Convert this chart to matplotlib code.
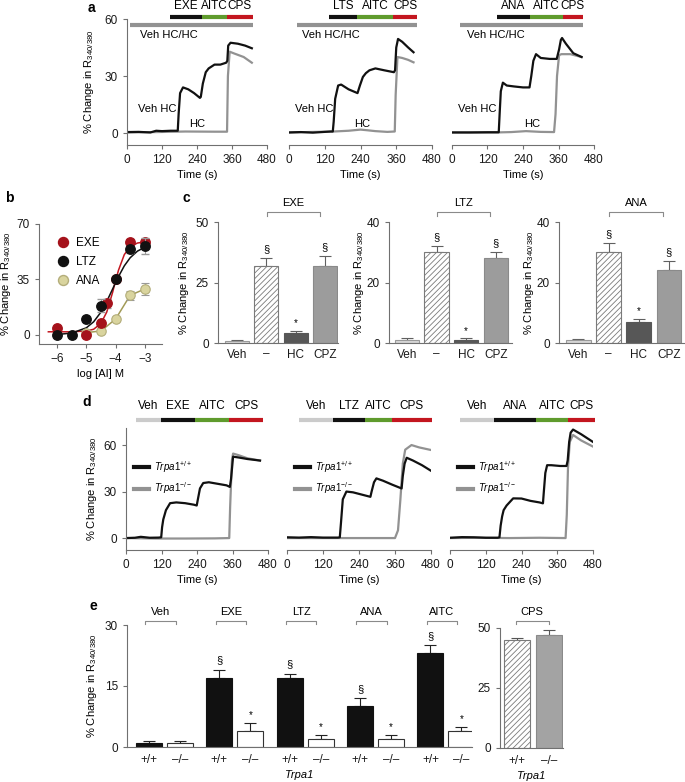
import matplotlib
matplotlib.use('Agg')
import matplotlib.pyplot as plt
from matplotlib.lines import Line2D
import numpy as np

plt.rcParams['font.family'] = ['Liberation Sans', 'DejaVu Sans']
plt.rcParams['mathtext.fontset'] = 'custom'
plt.rcParams['mathtext.rm'] = 'Liberation Sans'
plt.rcParams['mathtext.it'] = 'Liberation Sans:italic'
plt.rcParams['font.size'] = 8
plt.rcParams['xtick.labelsize'] = 8.5
plt.rcParams['ytick.labelsize'] = 8.5
plt.rcParams['hatch.linewidth'] = 0.6
plt.rcParams['axes.linewidth'] = 0.8
plt.rcParams['axes.edgecolor'] = '#707070'
plt.rcParams['xtick.color'] = '#707070'
plt.rcParams['ytick.color'] = '#707070'
plt.rcParams['xtick.labelcolor'] = '#1a1a1a'
plt.rcParams['ytick.labelcolor'] = '#1a1a1a'
plt.rcParams['xtick.major.size'] = 3
plt.rcParams['ytick.major.size'] = 3

BLACK = '#111111'
GRAY = '#929292'
LGRAY = '#cbcbcb'
GREEN = '#5f9b2d'
RED = '#c3161f'
YLABEL = '% Change in R$_{340/380}$'

# ---------------- panel a : calcium traces ----------------
a_drugs = [['EXE', 'AITC', 'CPS'], ['LTS', 'AITC', 'CPS'], ['ANA', 'AITC', 'CPS']]
# gray bar start, drug start, AITC start, CPS start, end (s)
a_bar_edges = [[10, 147, 257, 342, 432], [27, 135, 228, 349, 430], [28, 152, 264, 374, 443]]

a1_t_veh = [0, 40, 80, 100, 120, 150, 174, 177, 182, 192, 210, 230, 250, 253, 260, 270, 280, 300, 320, 340, 344, 347, 355, 380, 405, 428]
a1_veh = [0.5, 0.6, 0.3, 1.2, 1.0, 1.2, 1.2, 10, 21, 24, 23, 21, 18.5, 19, 26, 32, 34, 36, 36, 37, 38, 46, 47.5, 47, 46, 44.6]
a1_t_hc = [0, 100, 200, 300, 343, 346, 352, 365, 400, 428]
a1_hc = [0.3, 0.5, 0.8, 0.7, 0.7, 30, 42.8, 42, 40, 37]

a2_t_veh = [0, 40, 80, 120, 140, 147, 150, 155, 165, 175, 200, 230, 238, 248, 258, 270, 290, 320, 352, 356, 360, 366, 380, 400, 418]
a2_veh = [0.3, 0.5, 0.2, 0.6, 0.8, 0.8, 6, 18, 25, 25.5, 23, 21, 25, 29.5, 31.5, 33, 34, 33, 32, 33, 45, 49.5, 48, 45, 42.5]
a2_t_hc = [0, 150, 200, 240, 260, 290, 330, 355, 358, 364, 380, 400, 418]
a2_hc = [0.3, 0.8, 1.2, 1.8, 1.5, 1.0, 0.6, 0.8, 20, 40, 39.5, 38.5, 37.2]

a3_t_veh = [0, 60, 120, 158, 161, 165, 172, 185, 210, 240, 262, 268, 275, 284, 300, 330, 354, 362, 368, 372, 385, 410, 438]
a3_veh = [0.3, 0.3, 0.4, 0.4, 10, 22, 26.5, 25, 24.5, 24, 24, 30, 38, 41.5, 39.5, 39, 39, 44, 49, 50, 47, 42, 40]
a3_t_hc = [0, 150, 200, 250, 300, 345, 350, 355, 362, 370, 400, 438]
a3_hc = [0.3, 0.3, 0.5, 1.0, 0.6, 0.5, 10, 30, 41, 41.5, 41.5, 40]

a_traces = [(a1_t_veh, a1_veh, a1_t_hc, a1_hc), (a2_t_veh, a2_veh, a2_t_hc, a2_hc),
            (a3_t_veh, a3_veh, a3_t_hc, a3_hc)]
a_label_pos = [(44, 38, 240), (43, 20, 245), (50, 21, 270)]  # Veh HC/HC x, Veh HC x, HC x

# ---------------- panel b : concentration response ----------------
b_x = [-6, -5, -4.5, -4.3, -4, -3.5, -3]
b_exe = [4.2, 0, 7.5, 20, 35, 58.5, 58.5]
b_exe_err = [1, 0.5, 1, 3, 1, 2, 2]
b_x_ltz = [-6, -5.5, -5, -4.5, -4, -3.5, -3]
b_ltz = [0, 0, 10, 18.5, 35, 54, 56]
b_ltz_err = [0.5, 0.5, 1, 4, 1, 2, 5]
b_x_ana = [-5, -4.5, -4, -3.5, -3]
b_ana = [1.5, 2.5, 10, 25, 29]
b_ana_err = [1, 0.5, 1, 3, 3.5]
b_fit_x_exe = [-6.3, -6, -5.5, -5, -4.75, -4.5, -4.3, -4.1, -4, -3.9, -3.7, -3.5, -3.25, -3]
b_fit_exe = [2.0, 2.0, 2.0, 2.5, 3.6, 7.3, 14.5, 26.9, 34.1, 40.8, 50.7, 55.7, 58.0, 58.7]
b_fit_x_ltz = [-6.1, -6, -5.5, -5, -4.75, -4.5, -4.3, -4.1, -4, -3.9, -3.7, -3.5, -3.25, -3]
b_fit_ltz = [0.2, 0.3, 1.2, 4.5, 8.3, 14.4, 21.2, 29, 33, 36.8, 43.6, 48.7, 52.9, 55.3]

# ---------------- panel c : antagonists ----------------
c_labels = ['Veh', '\u2013', 'HC', 'CPZ']
c_titles = ['EXE', 'LTZ', 'ANA']
c_vals = [[1, 32, 4, 32], [1, 30, 1, 28], [1, 30, 7, 24]]
c_errs = [[0.3, 3, 1, 4], [0.5, 2, 0.5, 2], [0.3, 3, 1, 3]]
c_sig = ['', '\u00a7', '*', '\u00a7']
c_ymax = [50, 40, 40]
c_yticks = [[0, 25, 50], [0, 20, 40], [0, 20, 40]]

# ---------------- panel d : Trpa1 traces ----------------
d_drugs = [['Veh', 'EXE', 'AITC', 'CPS'], ['Veh', 'LTZ', 'AITC', 'CPS'], ['Veh', 'ANA', 'AITC', 'CPS']]
d_bar_edges = [[34, 117, 233, 349, 463], [39, 153, 260, 350, 482], [33, 148, 287, 397, 486]]

d1_t_wt = [0, 30, 50, 80, 110, 119, 122, 126, 135, 149, 170, 200, 230, 239, 244, 250, 261, 280, 310, 340, 351, 355, 362, 380, 410, 453]
d1_wt = [0, 0.2, 0.8, 0.2, 0.3, 0.5, 7, 12, 18, 22.5, 23, 22.5, 21.5, 21, 26, 32, 35.5, 36, 35, 34, 33, 38, 52.5, 52, 51, 50]
d1_t_ko = [0, 100, 200, 300, 349, 352, 358, 362, 380, 410, 453]
d1_ko = [0, -0.3, -0.3, -0.2, 0, 20, 50, 54.5, 53.5, 51.5, 50]

d2_t_wt = [0, 40, 80, 120, 170, 176, 180, 186, 198, 220, 250, 278, 282, 290, 298, 320, 350, 382, 386, 392, 399, 420, 450, 480]
d2_wt = [0.5, 0.3, 0.6, 0.3, 0.3, 0.5, 10, 25, 30, 29.5, 28, 26.6, 30, 36, 38.5, 37, 34.5, 32, 40, 48, 51.8, 50, 47, 43.4]
d2_t_ko = [0, 100, 200, 300, 360, 370, 378, 386, 394, 415, 440, 480]
d2_ko = [0, 0, 0, 0, 0, 5, 25, 48, 57, 60, 58.5, 56.8]

d3_t_wt = [0, 40, 80, 120, 160, 166, 170, 175, 180, 190, 212, 240, 270, 300, 312, 315, 320, 326, 340, 370, 391, 395, 400, 405, 413, 440, 480]
d3_wt = [0.2, 0.6, 0.5, 0.2, 0.2, 0.5, 8, 14, 18, 21, 25.6, 25.5, 24, 23, 22.4, 30, 42, 47, 47, 46.5, 46.5, 50, 62, 68, 70, 67, 62]
d3_t_ko = [0, 100, 200, 300, 388, 392, 396, 402, 413, 440, 480]
d3_ko = [0, 0.2, 0, 0.2, 0, 15, 45, 62, 66.5, 63, 59]

d_traces = [(d1_t_wt, d1_wt, d1_t_ko, d1_ko), (d2_t_wt, d2_wt, d2_t_ko, d2_ko),
            (d3_t_wt, d3_wt, d3_t_ko, d3_ko)]

# ---------------- panel e : Trpa1 summary ----------------
e_groups = ['Veh', 'EXE', 'LTZ', 'ANA', 'AITC']
e_wt = [1, 17, 17, 10, 23]
e_wt_err = [0.5, 2, 1, 2, 2]
e_ko = [1, 4, 2, 2, 4]
e_ko_err = [0.5, 2, 1, 1, 1]
e_wt_sig = ['', '\u00a7', '\u00a7', '\u00a7', '\u00a7']
e_ko_sig = ['', '*', '*', '*', '*']
e_cps = [45, 47]
e_cps_err = [1, 2]
geno = ['+/+', '\u2013/\u2013']

W, H = 685, 782
fig = plt.figure(figsize=(W / 100, H / 100), dpi=100)


def pax(l, t, r, b):
    return fig.add_axes([l / W, 1 - b / H, (r - l) / W, (b - t) / H])


def clean(ax, left=True):
    ax.spines['top'].set_visible(False)
    ax.spines['right'].set_visible(False)
    if not left:
        ax.spines['left'].set_visible(False)
        ax.set_yticks([])


def ylab(ax, x_px, l, r):
    ax.set_ylabel(YLABEL)
    ax.yaxis.set_label_coords((x_px - l) / (r - l), 0.5)


def bracket(ax, x0, x1, y, drop, label, color='#8a8a8a'):
    ax.plot([x0, x0, x1, x1], [y - drop, y, y, y - drop], color=color, lw=0.8, clip_on=False)
    ax.annotate(label, ((x0 + x1) / 2, y), xytext=(0, 2.5), textcoords='offset points',
                ha='center', va='bottom', fontsize=8, annotation_clip=False)


def sig(ax, x, top, s):
    if s:
        ax.annotate(s, (x, top), xytext=(0, 2 if s == '*' else 3), textcoords='offset points',
                    ha='center', va='bottom', fontsize=8 if s != '*' else 7)


# ---- panel a
a_boxes = [(127, 267), (289, 432), (452, 594)]
for i, (l, r) in enumerate(a_boxes):
    ax = pax(l, 19, r, 145)
    tv, vv, th, vh = a_traces[i]
    ax.plot(th, vh, color=GRAY, lw=1.6)
    ax.plot(tv, vv, color=BLACK, lw=1.6)
    ax.set_xlim(0, 480)
    ax.set_ylim(-6.3, 60)
    ax.set_xticks([0, 120, 240, 360, 480])
    ax.set_xlabel('Time (s)', labelpad=3)
    clean(ax, left=(i == 0))
    if i == 0:
        ax.set_yticks([0, 30, 60])
        ylab(ax, 96, l, r)
    e = a_bar_edges[i]
    ax.plot([e[0], e[4]], [57, 57], color=GRAY, lw=3, solid_capstyle='butt', clip_on=False)
    for k, c in enumerate([BLACK, GREEN, RED]):
        ax.plot([e[k + 1], e[k + 2]], [61, 61], color=c, lw=3, solid_capstyle='butt', clip_on=False)
        ax.text((e[k + 1] + e[k + 2]) / 2, 63.5, a_drugs[i][k], ha='center', va='bottom', fontsize=8.5)
    p = a_label_pos[i]
    ax.text(p[0], 51.5, 'Veh HC/HC', ha='left', va='center', fontsize=8)
    ax.text(p[1], 12.5, 'Veh HC', ha='left', va='center', fontsize=8)
    ax.text(p[2], 5, 'HC', ha='center', va='center', fontsize=8)

# ---- panel b
ax = pax(39, 224, 162, 344)
ax.plot(b_fit_x_exe, b_fit_exe, color=RED, lw=1.1, zorder=2)
ax.plot(b_fit_x_ltz, b_fit_ltz, color=BLACK, lw=1.1, zorder=2)
ax.plot(b_x_ana, b_ana, color='#a29b57', lw=1.1, zorder=2)
ax.errorbar(b_x_ana, b_ana, yerr=b_ana_err, fmt='o', ms=6.8, mfc='#d9d49e', mec='#b3ad7a', mew=0.8,
            ecolor='#999999', elinewidth=0.8, capsize=3, zorder=3)
ax.errorbar(b_x, b_exe, yerr=b_exe_err, fmt='o', ms=6.8, mfc='#a5121b', mec='#a5121b',
            ecolor='#999999', elinewidth=0.8, capsize=3, zorder=3)
ax.errorbar(b_x_ltz, b_ltz, yerr=b_ltz_err, fmt='o', ms=6.8, mfc=BLACK, mec=BLACK,
            ecolor='#999999', elinewidth=0.8, capsize=3, zorder=4)
ax.set_xlim(-6.62, -2.41)
ax.set_ylim(-5.7, 70)
ax.set_xticks([-6, -5, -4, -3])
ax.set_yticks([0, 35, 70])
ax.set_xlabel('log [AI] M', labelpad=3)
clean(ax)
ylab(ax, 13, 39, 162)
handles = [Line2D([], [], marker='o', ls='none', ms=7.2, mfc='#a5121b', mec='#a5121b'),
           Line2D([], [], marker='o', ls='none', ms=7.2, mfc=BLACK, mec=BLACK),
           Line2D([], [], marker='o', ls='none', ms=7.2, mfc='#d9d49e', mec='#b3ad7a')]
ax.legend(handles, ['EXE', 'LTZ', 'ANA'], loc='upper left', bbox_to_anchor=(0.06, 0.93),
          frameon=False, handletextpad=0.1, labelspacing=0.6, fontsize=8.5, borderaxespad=0)

# ---- panel c
c_boxes = [(218, 338, -0.65, 3.45, 191), (389, 512, -0.61, 3.55, 366), (559, 684, -0.64, 3.5, 536)]
c_face = ['#d8d8d8', 'white', '#575757', '#9c9c9c']
c_edge = ['#9a9a9a', '#7a7a7a', '#575757', '#8a8a8a']
c_hatch = [None, '//////', None, None]
for i, (l, r, x0, x1, yl) in enumerate(c_boxes):
    ax = pax(l, 222, r, 343)
    xs = np.arange(4)
    for k in range(4):
        ax.bar(xs[k], c_vals[i][k], width=0.82, color=c_face[k], edgecolor=c_edge[k],
               hatch=c_hatch[k], linewidth=0.8, zorder=2)
    ax.errorbar(xs, c_vals[i], yerr=[np.zeros(4), c_errs[i]], fmt='none', ecolor='#606060',
                elinewidth=0.8, capsize=4, capthick=0.8, zorder=1)
    for k in range(4):
        sig(ax, xs[k], c_vals[i][k] + c_errs[i][k], c_sig[k])
    ax.set_xlim(x0, x1)
    ax.set_ylim(0, c_ymax[i])
    ax.set_yticks(c_yticks[i])
    ax.set_xticks(xs)
    ax.set_xticklabels(c_labels)
    ax.tick_params(axis='x', length=0, pad=4)
    clean(ax)
    ylab(ax, yl, l, r)
    bracket(ax, 1.02, 2.82, c_ymax[i] * 1.085, c_ymax[i] * 0.034, c_titles[i])

# ---- panel d
d_boxes = [(126, 268), (287, 431), (450, 593)]
for i, (l, r) in enumerate(d_boxes):
    ax = pax(l, 428, r, 550)
    tw, vw, tk, vk = d_traces[i]
    ax.plot(tk, vk, color=GRAY, lw=1.6)
    ax.plot(tw, vw, color=BLACK, lw=1.6)
    ax.set_xlim(0, 480)
    ax.set_ylim(-7.7, 71)
    ax.set_xticks([0, 120, 240, 360, 480])
    ax.set_xlabel('Time (s)', labelpad=3)
    clean(ax, left=(i == 0))
    if i == 0:
        ax.set_yticks([0, 30, 60])
        ylab(ax, 99, l, r)
    e = d_bar_edges[i]
    for k, c in enumerate([LGRAY, BLACK, GREEN, RED]):
        ax.plot([e[k], e[k + 1]], [76, 76], color=c, lw=3, solid_capstyle='butt', clip_on=False)
        ax.text((e[k] + e[k + 1]) / 2, 81, d_drugs[i][k], ha='center', va='bottom', fontsize=8.5)
    hl = [Line2D([], [], color=BLACK, lw=3), Line2D([], [], color=GRAY, lw=3)]
    ax.legend(hl, [r'$\it{Trpa1}^{+/+}$', r'$\it{Trpa1}^{-/-}$'], loc='upper left',
              bbox_to_anchor=(0.03, 0.78), frameon=False, fontsize=7, handlelength=1.5,
              handletextpad=0.5, labelspacing=0.6, borderaxespad=0)

# ---- panel e
ax = pax(127, 625, 472, 747)
gpos = np.arange(5) * 2.27
for k in range(5):
    ax.bar(gpos[k], e_wt[k], width=0.84, color=BLACK, edgecolor=BLACK, linewidth=0.8, zorder=2)
    ax.bar(gpos[k] + 1, e_ko[k], width=0.84, color='white', edgecolor='#333333', linewidth=0.8, zorder=2)
    sig(ax, gpos[k], e_wt[k] + e_wt_err[k], e_wt_sig[k])
    sig(ax, gpos[k] + 1, e_ko[k] + e_ko_err[k], e_ko_sig[k])
    bracket(ax, gpos[k] - 0.12, gpos[k] + 0.86, 31, 0.7, e_groups[k])
ax.errorbar(gpos, e_wt, yerr=[np.zeros(5), e_wt_err], fmt='none', ecolor='#222222',
            elinewidth=0.8, capsize=4, capthick=0.8, zorder=1)
ax.errorbar(gpos + 1, e_ko, yerr=[np.zeros(5), e_ko_err], fmt='none', ecolor='#222222',
            elinewidth=0.8, capsize=4, capthick=0.8, zorder=1)
ax.set_xlim(-0.71, 10.42)
ax.set_ylim(0, 30)
ax.set_yticks([0, 15, 30])
ax.set_xticks(np.sort(np.concatenate([gpos, gpos + 1])))
ax.set_xticklabels(geno * 5)
ax.tick_params(axis='x', length=0, pad=5)
ax.set_xlabel('Trpa1', fontstyle='italic', labelpad=3)
clean(ax)
ylab(ax, 99, 127, 472)

ax = pax(500, 628, 563, 748)
ax.bar(0, e_cps[0], width=0.83, color='white', edgecolor='#7a7a7a', hatch='//////', linewidth=0.8, zorder=2)
ax.bar(1, e_cps[1], width=0.83, color='#a3a3a3', edgecolor='#8a8a8a', linewidth=0.8, zorder=2)
ax.errorbar([0, 1], e_cps, yerr=[[0, 0], e_cps_err], fmt='none', ecolor='#555555',
            elinewidth=0.8, capsize=4, capthick=0.8, zorder=1)
bracket(ax, -0.05, 1.0, 53, 1.2, 'CPS')
ax.set_xlim(-0.55, 1.45)
ax.set_ylim(0, 50)
ax.set_yticks([0, 25, 50])
ax.set_xticks([0, 1])
ax.set_xticklabels(geno)
ax.tick_params(axis='x', length=0, pad=5)
ax.set_xlabel('Trpa1', fontstyle='italic', labelpad=3)
clean(ax)

# panel letters
for s, x, y in [('a', 88, 8), ('b', 5, 198), ('c', 183, 198), ('d', 82, 402), ('e', 90, 606)]:
    fig.text(x / W, 1 - y / H, s, fontsize=10, fontweight='bold', ha='left', va='center')

fig.savefig('out.png', dpi=100)
